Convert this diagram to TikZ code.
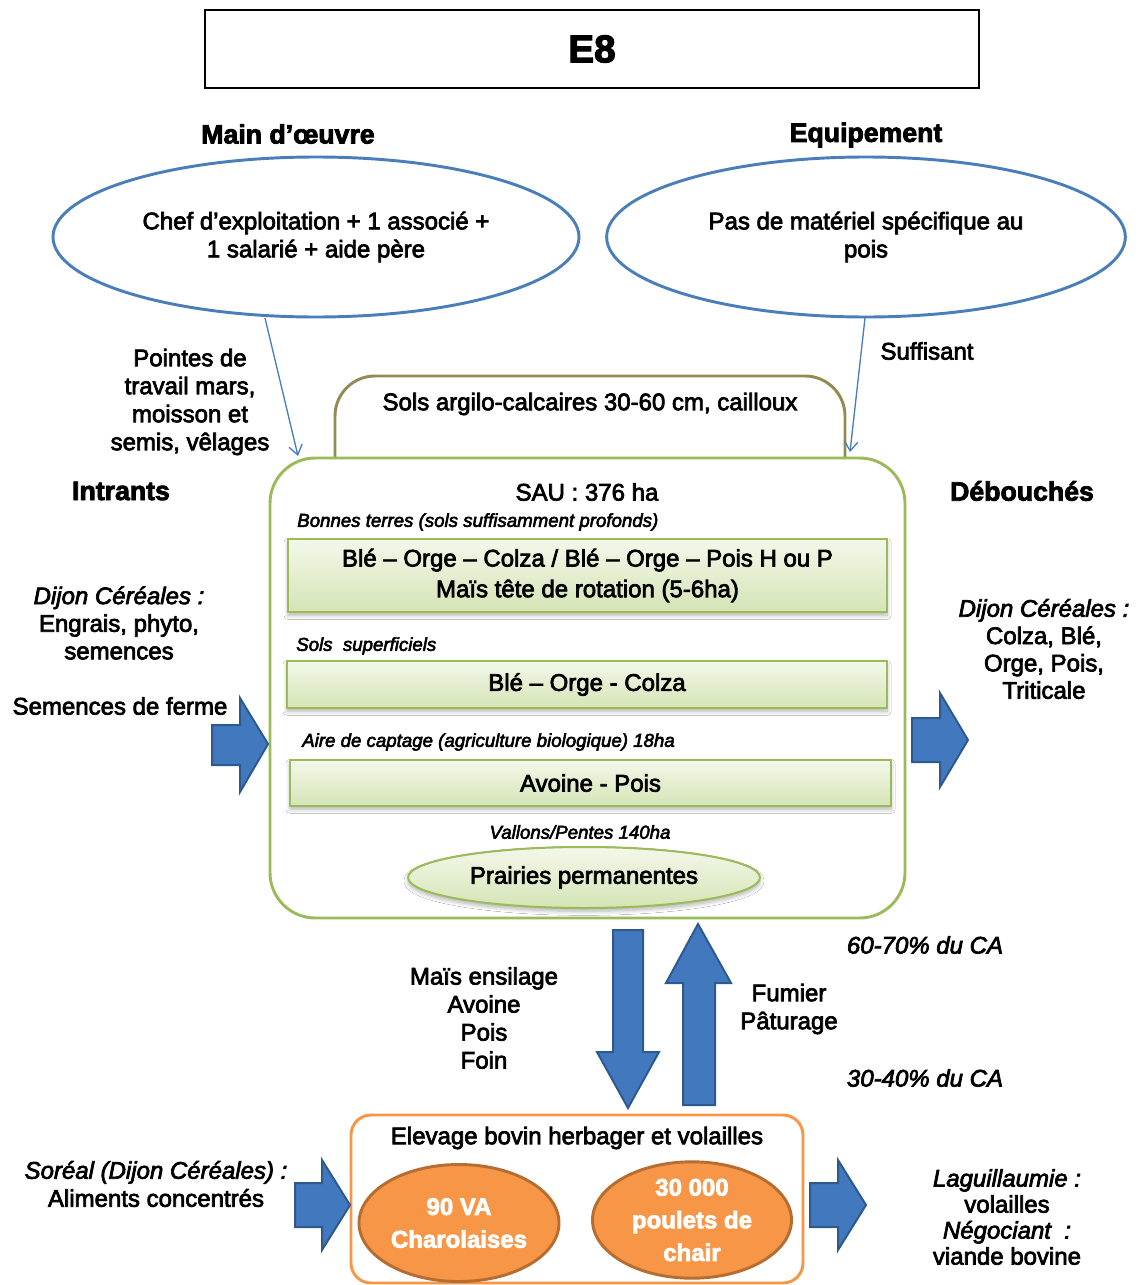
\documentclass[tikz,border=0pt]{standalone}
\usepackage{fontspec}
\setmainfont{Liberation Sans}[FakeBold=3]
\usetikzlibrary{arrows.meta,shapes.geometric,shadows.blur}

\definecolor{linkblue}{HTML}{4A7EBB}
\definecolor{leafgreen}{HTML}{9BBB59}
\definecolor{soilolive}{HTML}{948A54}
\definecolor{fillblue}{HTML}{4279BE}
\definecolor{edgeblue}{HTML}{2D5A8E}
\definecolor{farmorange}{HTML}{F79646}
\definecolor{deeporange}{HTML}{B66D31}
\definecolor{paletop}{HTML}{F3F8EA}
\definecolor{palebottom}{HTML}{D5E4B6}

\tikzset{
  txt/.style={font=\fontsize{18}{21}\selectfont, align=center, inner sep=0pt},
  heading/.style={font=\fontsize{20}{24}\selectfont\bfseries, inner sep=0pt},
  note/.style={font=\fontsize{14}{17}\selectfont\itshape, inner sep=0pt},
  ring/.style={ellipse, draw=linkblue, line width=2.2pt, inner sep=0pt, align=center,
    font=\fontsize{18}{21}\selectfont},
  cropbox/.style={rectangle, draw=leafgreen, line width=1.5pt, top color=paletop,
    bottom color=palebottom, inner sep=0pt, font=\fontsize{18}{23}\selectfont, align=center,
    blur shadow={shadow xshift=0pt, shadow yshift=-2.5pt, shadow opacity=30,
      shadow blur radius=3pt, shadow blur steps=8}},
  blockarrow/.style={fill=fillblue, draw=edgeblue, line width=1.5pt, line join=miter},
  thinarrow/.style={draw=linkblue, line width=1pt, -{Straight Barb[length=7pt,width=10pt]}},
  herd/.style={ellipse, fill=farmorange, draw=deeporange, line width=2.2pt, text=white,
    font=\fontsize{18}{24.5}\selectfont\bfseries, align=center, inner sep=0pt},
}

\begin{document}
\begin{tikzpicture}[x=0.75pt, y=-0.75pt]
\useasboundingbox (0,0) rectangle (1139,1285);

% title
\node[draw, line width=0.8pt, minimum width=580.5pt, minimum height=58.5pt,
      font=\fontsize{29}{34}\selectfont\bfseries] (title) at (592,49) {E8};

% labour and equipment
\node[heading] (labourhead) at (288,134) {Main d’œuvre};
\node[heading] (equiphead) at (866,135) {Equipement};
\node[ring, minimum width=394.5pt, minimum height=120pt] (labour) at (316,237)
  {Chef d’exploitation + 1 associé +\\1 salarié + aide père};
\node[ring, minimum width=389pt, minimum height=120pt] (equip) at (866,237)
  {Pas de matériel spécifique au\\pois};

% soil frame behind the farm area
\draw[soilolive, line width=2.2pt, rounded corners=30pt]
  (335,470) -- (335,376) -- (845,376) -- (845,470);
\node[txt] (soil) at (590,404) {Sols argilo-calcaires 30-60 cm, cailloux};

% farm area
\node[draw=leafgreen, line width=2.2pt, fill=white, rounded corners=34pt,
      minimum width=476.25pt, minimum height=345pt] (sau) at (587.5,688) {};
\node[txt] (sautitle) at (587,492) {SAU : 376 ha};

\node[note, anchor=west] (good) at (297,522) {Bonnes terres (sols suffisamment profonds)};
\node[cropbox, minimum width=449.25pt, minimum height=54.75pt] (rot1) at (587.5,575.5)
  {Blé – Orge – Colza / Blé – Orge – Pois H ou P\\Maïs tête de rotation (5-6ha)};

\node[note, anchor=west] (shallow) at (296,646) {Sols\ \ superficiels};
\node[cropbox, minimum width=450pt, minimum height=35.25pt] (rot2) at (587,684.5)
  {Blé – Orge - Colza};

\node[note, anchor=west] (organic) at (302,742) {Aire de captage (agriculture biologique) 18ha};
\node[cropbox, minimum width=450.75pt, minimum height=34.5pt] (rot3) at (590.5,783)
  {Avoine - Pois};

\node[note] (slopes) at (580,832) {Vallons/Pentes 140ha};
\node[cropbox, ellipse, minimum width=264pt, minimum height=45.75pt] (meadow) at (584,877.5)
  {Prairies permanentes};

% thin links from the top ellipses
\coordinate (labourfoot) at (265,318);
\coordinate (labourtip) at (298,456);
\coordinate (equipfoot) at (865,318);
\coordinate (equiptip) at (850,452);
\draw[thinarrow] (labourfoot) -- (labourtip);
\draw[thinarrow] (equipfoot) -- (equiptip);
\node[txt] (peaks) at (190,402) {Pointes de\\travail mars,\\moisson et\\semis, vêlages};
\node[txt] (enough) at (927,351) {Suffisant};

% inputs / outputs
\node[heading] (inhead) at (121,491) {Intrants};
\node[heading] (outhead) at (1022,491) {Débouchés};
\node[txt, font=\fontsize{18}{20.7}\selectfont] (inputs) at (119,623)
  {\textit{Dijon Céréales :}\\Engrais, phyto,\\semences};
\node[txt] (seeds) at (120,706) {Semences de ferme};
\node[txt, font=\fontsize{18}{20.5}\selectfont] (outputs) at (1044,649)
  {\textit{Dijon Céréales :}\\Colza, Blé,\\Orge, Pois,\\Triticale};

\draw[blockarrow] (212,725) -- (240,725) -- (240,698) -- (268,744) -- (240,792)
  -- (240,765) -- (212,765) -- cycle;
\draw[blockarrow] (912,718) -- (940,718) -- (940,693) -- (968,740) -- (940,787)
  -- (940,762) -- (912,762) -- cycle;

% exchanges between crops and livestock
\draw[blockarrow] (613,930) -- (643,930) -- (643,1052) -- (659,1052) -- (628,1108)
  -- (597,1052) -- (613,1052) -- cycle;
\draw[blockarrow] (683,1105) -- (715,1105) -- (715,983) -- (731,983) -- (698,924)
  -- (666,983) -- (683,983) -- cycle;
\node[txt] (feed) at (484,1018) {Maïs ensilage\\Avoine\\Pois\\Foin};
\node[txt] (manure) at (789,1009) {Fumier\\Pâturage};
\node[txt, font=\fontsize{18}{21}\selectfont\itshape] (share1) at (925,945) {60-70\% du CA};
\node[txt, font=\fontsize{18}{21}\selectfont\itshape] (share2) at (925,1078) {30-40\% du CA};

% livestock
\node[draw=farmorange, line width=2.2pt, fill=white, rounded corners=15pt,
      minimum width=339pt, minimum height=126pt] (farm) at (577,1199) {};
\node[txt] (farmtitle) at (577,1138) {Elevage bovin herbager et volailles};
\node[herd, minimum width=150pt, minimum height=87.75pt] (cows) at (459,1223)
  {90 VA\\Charolaises};
\node[herd, minimum width=149.25pt, minimum height=87pt] (poultry) at (692,1220)
  {30 000\\poulets de\\chair};

\draw[blockarrow] (295,1183) -- (322,1183) -- (322,1160) -- (350,1205) -- (322,1250)
  -- (322,1227) -- (295,1227) -- cycle;
\draw[blockarrow] (810,1183) -- (838,1183) -- (838,1160) -- (866,1205) -- (838,1250)
  -- (838,1227) -- (810,1227) -- cycle;
\node[txt] (feedin) at (156,1184) {\textit{Soréal (Dijon Céréales) :}\\Aliments concentrés};
\node[txt, font=\fontsize{18}{19.5}\selectfont] (buyers) at (1007,1217)
  {\textit{Laguillaumie :}\\volailles\\\textit{Négociant\ \ :}\\viande bovine};

\end{tikzpicture}
\end{document}
